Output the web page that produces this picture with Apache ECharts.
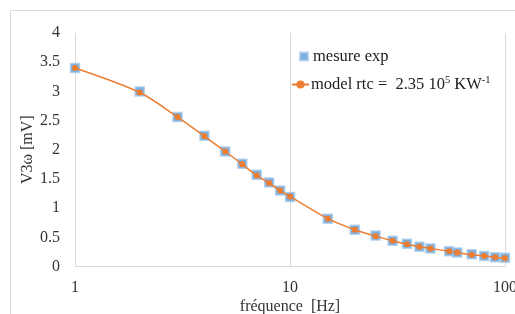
<!DOCTYPE html>
<html>
<head>
<meta charset="utf-8">
<script src="https://cdn.jsdelivr.net/npm/echarts@6/dist/echarts.min.js"></script>
<style>html,body{margin:0;padding:0;background:#fff;}#c{width:515px;height:314px;}</style>
</head>
<body>
<div id="c"></div>
<script>
var freq = [1,2,3,4,5,6,7,8,9,10,15,20,25,30,35,40,45,55,60,70,80,90,100];
var measured = [3.40,3.00,2.56,2.24,1.97,1.76,1.57,1.44,1.30,1.19,0.82,0.63,0.53,0.44,0.39,0.34,0.31,0.26,0.24,0.21,0.18,0.16,0.15];
var model = [3.40,2.98,2.56,2.23,1.97,1.75,1.56,1.43,1.30,1.20,0.82,0.63,0.52,0.44,0.38,0.34,0.31,0.26,0.24,0.20,0.18,0.16,0.14];
var yTicks = [0,0.5,1,1.5,2,2.5,3,3.5,4];
var xTicks = [1,10,100];

var font = 'Liberation Serif';
var chart = echarts.init(document.getElementById('c'), null, {renderer:'canvas'});
var mData = freq.map(function(f,i){return [f, measured[i]];});
var lData = freq.map(function(f,i){return [f, model[i]];});
chart.setOption({
  animation:false,
  backgroundColor:'#fff',
  grid:{left:75, right:10, top:33, bottom:47.5, outerBoundsMode:'none', containLabel:false},
  graphic:[{type:'rect', shape:{x:10.5,y:10.5,width:520,height:320}, style:{fill:'none', stroke:'#d9d9d9', lineWidth:1}, silent:true}],
  legend:[{
    data:['mesure exp'], left:294, top:43, orient:'vertical',
    itemWidth:8, itemHeight:8, icon:'rect',
    textStyle:{fontFamily:font, fontSize:16.5, color:'#222'}
  },{
    data:['model'], left:286, top:70, orient:'vertical',
    itemWidth:17, itemHeight:10,
    formatter:function(){return 'model rtc =  2.35 10{sup|5} KW{sup|-1}';},
    textStyle:{fontFamily:font, fontSize:16.5, color:'#222', padding:[0,0,0,-3],
      rich:{sup:{fontFamily:font, fontSize:10.5, verticalAlign:'bottom', padding:[0,0,8,0], color:'#222'}}}
  }],
  xAxis:{
    type:'log', logBase:10, min:1, max:100,
    name:'fréquence  [Hz]', nameLocation:'middle', nameGap:32, nameMoveOverlap:false,
    nameTextStyle:{fontFamily:font, fontSize:16, color:'#333'},
    axisLine:{show:true, lineStyle:{color:'#d9d9d9', width:1}},
    axisTick:{show:false},
    axisLabel:{fontFamily:font, fontSize:16, color:'#333', margin:13,
      formatter:function(v){return xTicks.indexOf(Math.round(v))>=0 ? String(Math.round(v)) : '';}},
    splitLine:{show:true, lineStyle:{color:'#d9d9d9', width:1}},
    minorSplitLine:{show:false}
  },
  yAxis:{
    type:'value', min:yTicks[0], max:yTicks[yTicks.length-1], interval:0.5,
    name:'V3ω [mV]', nameLocation:'middle', nameGap:39, nameMoveOverlap:false,
    nameTextStyle:{fontFamily:font, fontSize:16, color:'#333'},
    axisLine:{show:false}, axisTick:{show:false},
    axisLabel:{fontFamily:font, fontSize:16, color:'#333', margin:15},
    splitLine:{show:false}
  },
  series:[{
    name:'mesure exp', type:'scatter', data:mData,
    symbol:'rect', symbolSize:9,
    itemStyle:{color:'#5b9bd5', borderColor:'#a9cbeb', borderWidth:1.5},
    z:2
  },{
    name:'model', type:'line', data:lData, smooth:0.3,
    symbol:'circle', symbolSize:6, showSymbol:true,
    lineStyle:{color:'#ed7d31', width:1.5},
    itemStyle:{color:'#ed7d31', borderWidth:0},
    z:3
  }]
});
</script>
</body>
</html>
